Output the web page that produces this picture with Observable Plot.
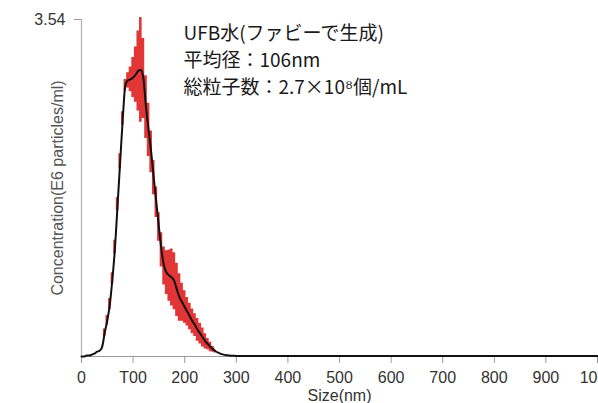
<!DOCTYPE html>
<html>
<head>
<meta charset="utf-8">
<script src="https://cdn.jsdelivr.net/npm/d3@7"></script>
<script src="https://cdn.jsdelivr.net/npm/@observablehq/plot@0.6"></script>
<style>
  html, body { margin: 0; padding: 0; background: #fff; overflow: hidden; }
  #chart svg { display: block; }
</style>
</head>
<body>
<div id="chart"></div>
<script>
// Particle size (nm)
const sizes = [0,5,10,15,20,25,30,35,40,45,50,55,60,65,70,75,80,85,90,95,100,105,110,115,120,125,130,135,140,145,150,155,160,165,170,175,180,185,190,195,200,205,210,215,220,225,230,235,240,245,250,255,260,265,270,275,280,285,290,295,300,350,400,500,600,700,800,900,1000];
// Mean concentration (E6 particles/ml)
const meanConc = [0,0,0.01,0.01,0.02,0.03,0.05,0.06,0.10,0.25,0.38,0.55,0.82,1.15,1.60,2.05,2.50,2.85,2.90,2.91,2.93,2.96,3.00,3.01,2.92,2.62,2.38,2.15,1.88,1.62,1.36,1.12,0.95,0.88,0.85,0.83,0.79,0.70,0.62,0.57,0.52,0.47,0.42,0.37,0.33,0.28,0.24,0.20,0.16,0.13,0.10,0.075,0.055,0.04,0.028,0.02,0.014,0.011,0.008,0.007,0.006,0.005,0.005,0.004,0.004,0.004,0.004,0.004,0.004];
// Error (± standard error) at each size bin, null where none is drawn
const errConc = [null,null,null,null,null,null,null,null,0.02,0.04,0.05,0.06,0.06,0.07,0.07,0.08,0.07,0.06,0.08,0.13,0.21,0.29,0.42,0.55,0.42,0.33,0.28,0.22,0.18,0.16,0.15,0.18,0.20,0.23,0.27,0.30,0.30,0.28,0.25,0.20,0.17,0.15,0.14,0.13,0.12,0.12,0.11,0.10,0.08,0.06,0.05,0.03,0.02,null,null,null,null,null,null,null,null,null,null,null,null,null,null,null,null];

const xTicks = [0,100,200,300,400,500,600,700,800,900,1000];
const xTickLabels = ["0","T00","200","300","400","500","600","700","800","900","1000"];
const yTicks = [3.54];
const yMax = 3.54;
const xLabel = "Size(nm)";
const yLabel = "Concentration(E6 particles/ml)";
const noteLines = ["UFB水(ファビーで生成)", "平均径：106nm", "総粒子数：2.7×10⁸個/mL"];

const curve = sizes.map((s, i) => ({size: s, conc: meanConc[i]}));
const bars = sizes.map((s, i) => ({size: s, conc: meanConc[i], err: errConc[i]})).filter(d => d.err != null);

const chart = Plot.plot({
  width: 598,
  height: 403,
  marginLeft: 81,
  marginRight: 1,
  marginTop: 19,
  marginBottom: 47,
  style: {fontFamily: "'Liberation Sans', Arial, sans-serif", background: "#fff", overflow: "hidden"},
  x: {domain: [0, 1000]},
  y: {domain: [0, yMax]},
  marks: [
    Plot.areaY(bars, {x: "size", y1: d => Math.max(0, d.conc - d.err), y2: d => d.conc + d.err, curve: "step", fill: "#e23535"}),
    Plot.ruleY([0], {stroke: "#9a9a9a", strokeWidth: 1.2}),
    Plot.ruleX([0], {stroke: "#b0b0b0", strokeWidth: 1.2}),
    Plot.axisX({ticks: xTicks, tickFormat: d => xTickLabels[xTicks.indexOf(d)], tickSize: 7, tickPadding: 8, stroke: "#9a9a9a", fontSize: 16, fill: "#333", label: null}),
    Plot.axisY({ticks: yTicks, tickFormat: d => d.toFixed(2), tickSize: 7, tickPadding: 9, stroke: "#9a9a9a", fontSize: 16, fill: "#333", label: null}),
    Plot.line(curve, {x: "size", y: "conc", stroke: "#111", strokeWidth: 2, curve: "monotone-x"}),
    Plot.text([xLabel], {frameAnchor: "bottom", dy: 39, lineAnchor: "middle", fontSize: 16, fill: "#333"}),
    Plot.text([yLabel], {frameAnchor: "left", dx: -24, rotate: -90, textAnchor: "middle", lineAnchor: "middle", fontSize: 16, fill: "#555"}),
    Plot.text([noteLines.join("\n")], {frameAnchor: "top-left", dx: 102, dy: 1, textAnchor: "start", lineAnchor: "top", lineHeight: 1.42, fontSize: 19, fill: "#1a1a1a", fontFamily: "'Noto Sans CJK JP', sans-serif"})
  ]
});
document.getElementById("chart").append(chart);
</script>
</body>
</html>
